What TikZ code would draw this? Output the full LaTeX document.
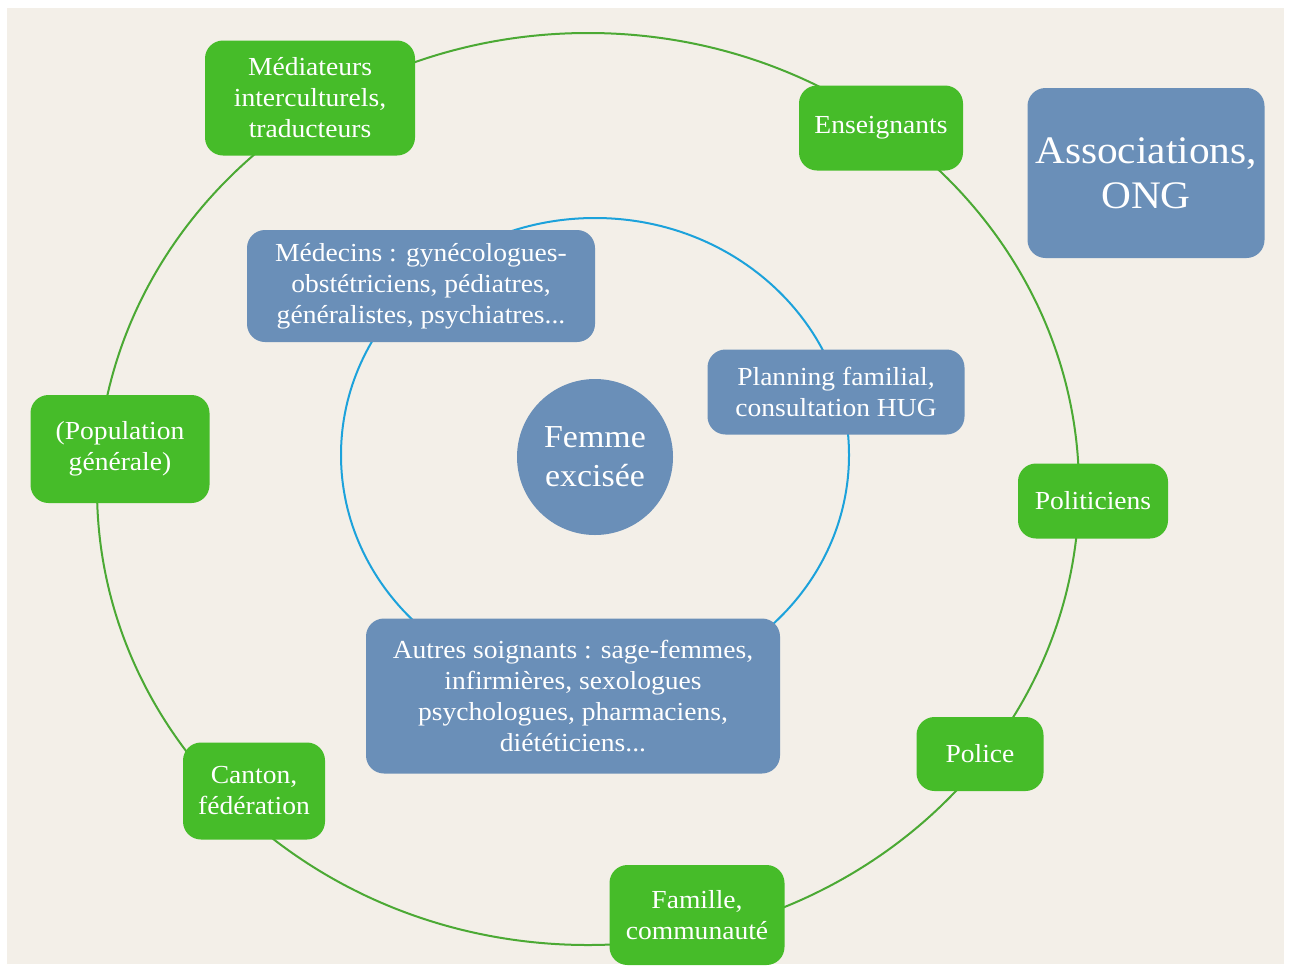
\documentclass[tikz,border=0pt]{standalone}
\usepackage{fontspec}
\setmainfont[FakeStretch=1.06]{Liberation Serif}
\definecolor{paper}{HTML}{F3EFE8}
\definecolor{boxgreen}{HTML}{46BC29}
\definecolor{boxblue}{HTML}{6A8FB8}
\definecolor{ringgreen}{HTML}{4BA934}
\definecolor{ringblue}{HTML}{1CA2DB}
\begin{document}
\begin{tikzpicture}[x=1pt, y=-1pt,
  greenbox/.style={fill=boxgreen, rounded corners=18pt, text=white, align=center, inner sep=0pt, font=\fontsize{26}{31}\selectfont},
  bluebox/.style={fill=boxblue, rounded corners=18pt, text=white, align=center, inner sep=0pt, font=\fontsize{26}{31}\selectfont}]
\useasboundingbox (0,0) rectangle (1290,967);
\fill[paper] (7,8) rectangle (1284,964);
% the two rings
\draw[ringgreen, line width=2pt] (588,489) ellipse [x radius=491pt, y radius=456pt];
\draw[ringblue, line width=2pt] (595,455) ellipse [x radius=254pt, y radius=237pt];
% centre
\node (femme) [circle, fill=boxblue, minimum size=156pt, text=white, align=center, font=\fontsize{32}{39}\selectfont] at (595,457) {Femme\\excisée};
% inner ring
\node (medecins) [bluebox, minimum width=348pt, minimum height=112pt] at (421,286) {Médecins : gynécologues-\\obstétriciens, pédiatres,\\généralistes, psychiatres...};
\node (planning) [bluebox, minimum width=257pt, minimum height=85pt] at (836,392) {Planning familial,\\consultation HUG};
\node (autres) [bluebox, minimum width=414pt, minimum height=155pt] at (573,696) {Autres soignants : sage-femmes,\\infirmières, sexologues\\psychologues, pharmaciens,\\diététiciens...};
% outer ring
\node (mediateurs) [greenbox, minimum width=210pt, minimum height=115pt] at (310,98) {Médiateurs\\interculturels,\\traducteurs};
\node (enseignants) [greenbox, minimum width=164pt, minimum height=85pt] at (881,128) {Enseignants};
\node (population) [greenbox, minimum width=179pt, minimum height=108pt] at (120,449) {(Population\\générale)};
\node (politiciens) [greenbox, minimum width=150pt, minimum height=75pt] at (1093,501) {Politiciens};
\node (police) [greenbox, minimum width=127pt, minimum height=74pt] at (980,754) {Police};
\node (canton) [greenbox, minimum width=142pt, minimum height=97pt] at (254,791) {Canton,\\fédération};
\node (famille) [greenbox, minimum width=175pt, minimum height=100pt] at (697,915) {Famille,\\communauté};
% outside
\node (assoc) [bluebox, minimum width=237pt, minimum height=170pt, font=\fontsize{39}{45}\selectfont] at (1146,173) {Associations,\\ONG};
\end{tikzpicture}
\end{document}
